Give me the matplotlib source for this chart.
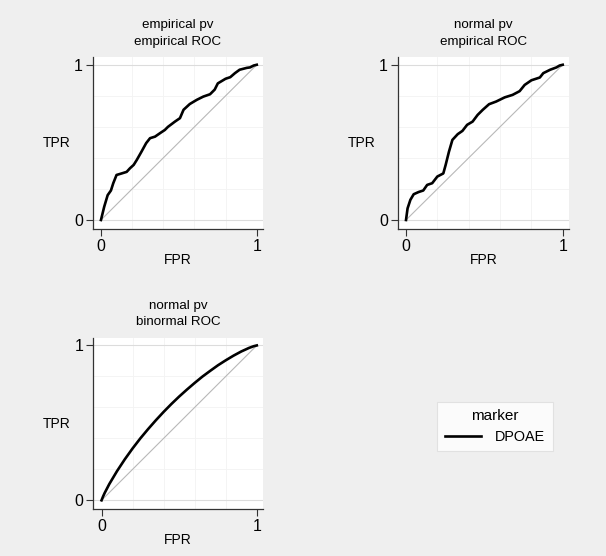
import numpy as np
import matplotlib
matplotlib.use('Agg')
import matplotlib.pyplot as plt

plt.rcParams['font.family'] = ['Liberation Sans', 'DejaVu Sans']

# empirical pv / empirical ROC
fpr_emp = [0.0, 0.021, 0.043, 0.064, 0.079, 0.10, 0.133, 0.165, 0.186, 0.21, 0.23, 0.26,
           0.29, 0.315, 0.347, 0.38, 0.41, 0.43, 0.475, 0.507, 0.53, 0.57, 0.615, 0.657,
           0.70, 0.73, 0.75, 0.80, 0.83, 0.86, 0.89, 0.936, 0.957, 0.98, 1.0]
tpr_emp = [0.0, 0.086, 0.16, 0.19, 0.237, 0.29, 0.30, 0.31, 0.333, 0.355, 0.387, 0.44,
           0.495, 0.527, 0.537, 0.56, 0.58, 0.60, 0.634, 0.656, 0.71, 0.747, 0.774, 0.795,
           0.81, 0.84, 0.88, 0.91, 0.92, 0.946, 0.968, 0.98, 0.983, 0.995, 1.0]

# normal pv / empirical ROC
fpr_norm = [0.0, 0.01, 0.028, 0.049, 0.08, 0.11, 0.135, 0.167, 0.20, 0.238, 0.253, 0.274,
            0.296, 0.33, 0.36, 0.39, 0.425, 0.457, 0.49, 0.53, 0.575, 0.63, 0.68, 0.725,
            0.757, 0.80, 0.854, 0.876, 0.92, 0.96, 0.98, 1.0]
tpr_norm = [0.0, 0.075, 0.13, 0.166, 0.18, 0.19, 0.226, 0.237, 0.28, 0.30, 0.355, 0.44,
            0.516, 0.553, 0.574, 0.613, 0.634, 0.677, 0.71, 0.746, 0.763, 0.79, 0.806, 0.83,
            0.87, 0.90, 0.918, 0.946, 0.968, 0.983, 0.995, 1.0]

# normal pv / binormal ROC
fpr_bin = [0.0, 0.01, 0.02, 0.05, 0.1, 0.15, 0.2, 0.25, 0.3, 0.35, 0.4, 0.45, 0.5, 0.55,
           0.6, 0.65, 0.7, 0.75, 0.8, 0.85, 0.9, 0.95, 0.98, 1.0]
tpr_bin = [0.0, 0.025, 0.047, 0.105, 0.189, 0.265, 0.335, 0.40, 0.46, 0.517, 0.571, 0.622,
           0.670, 0.715, 0.758, 0.799, 0.836, 0.872, 0.904, 0.934, 0.961, 0.984, 0.995, 1.0]

titles = ['empirical pv\nempirical ROC', 'normal pv\nempirical ROC', 'normal pv\nbinormal ROC']
series_label = 'DPOAE'
legend_title = 'marker'

BG = '#efefef'
W, H = 606, 556
fig = plt.figure(figsize=(W / 100, H / 100), dpi=100, facecolor=BG)


def px_rect(left, top, right, bottom):
    return [left / W, 1 - bottom / H, (right - left) / W, (bottom - top) / H]


rects = [px_rect(92.7, 57, 263, 229), px_rect(397.7, 57, 569, 229), px_rect(93.3, 337.7, 263, 509.3)]
data = [(fpr_emp, tpr_emp), (fpr_norm, tpr_norm), (fpr_bin, tpr_bin)]

line = None
for rect, (x, y), title in zip(rects, data, titles):
    ax = fig.add_axes(rect)
    ax.set_facecolor('white')
    ax.set_xlim(-0.053, 1.04)
    ax.set_ylim(-0.058, 1.05)
    for g in [0.2, 0.4, 0.6, 0.8]:
        ax.axhline(g, color='#f3f3f3', lw=0.6, zorder=0)
        ax.axvline(g, color='#f3f3f3', lw=0.6, zorder=0)
    for g in [0, 1]:
        ax.axhline(g, color='#dcdcdc', lw=0.8, zorder=1)
    ax.plot([0, 1], [0, 1], color='#b8b8b8', lw=0.8, zorder=2)
    line, = ax.plot(x, y, color='black', lw=1.9, zorder=3, solid_joinstyle='round')
    for s in ['top', 'right']:
        ax.spines[s].set_visible(False)
    for s in ['left', 'bottom']:
        ax.spines[s].set_color('#333333')
        ax.spines[s].set_linewidth(0.9)
    ax.set_xticks([0, 1])
    ax.set_yticks([0, 1])
    ax.tick_params(length=5, width=0.8, color='#333333', labelsize=11.5, pad=2)
    ax.set_title(title, fontsize=9.6, linespacing=1.45, pad=9)
    ax.set_xlabel('FPR', fontsize=10)
    ax.set_ylabel('TPR', fontsize=10, rotation=0, ha='center', va='center')
    ax.xaxis.set_label_coords(0.5, -0.14)
    ax.yaxis.set_label_coords(-36.4 / (rect[2] * W), 0.5)

leg = fig.legend([line], [series_label], title=legend_title, loc='center',
                 bbox_to_anchor=(495 / W, 1 - 426.5 / H), fontsize=10.4, title_fontsize=11,
                 frameon=True, fancybox=False, handlelength=2.5, handletextpad=1.0,
                 borderpad=0.5, borderaxespad=0)
leg.get_frame().set_facecolor('white')
leg.get_frame().set_edgecolor('#dddddd')
leg.get_frame().set_linewidth(0.8)

fig.savefig('out.png', dpi=100, facecolor=BG)
